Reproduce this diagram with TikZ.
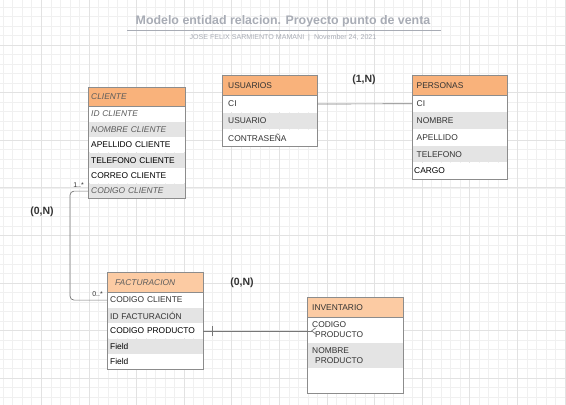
\documentclass[tikz,border=0pt]{standalone}
\usepackage{fontspec}
\setmainfont{Liberation Sans}
\usetikzlibrary{positioning,arrows.meta}
\definecolor{cO}{HTML}{F9B27B}
\definecolor{cO2}{HTML}{FCCBA3}
\definecolor{cGr}{HTML}{E4E4E4}
\definecolor{cLine}{HTML}{8C8C8C}
\definecolor{cTxt}{HTML}{333333}
\definecolor{cTitle}{HTML}{A8ACB5}
\definecolor{cGridA}{HTML}{F0F0F0}
\definecolor{cGridB}{HTML}{E2E2E2}
\newcommand{\rowfont}{\fontsize{8.4}{10}\selectfont}
\tikzset{myrow/.style={
  shape=rectangle,
  fill=white,
  minimum height=15pt,
  inner ysep=0pt,
  inner xsep=3pt,
  text width=91pt,
  align=left,
  font=\rowfont,
  text=cTxt,
  }
}
\tikzset{myrowG/.style={
  myrow,
  fill=cGr,
  }
}
\tikzset{myhead/.style={
  myrow,
  fill=cO,
  draw=cLine,
  minimum height=19pt,
  }
}
\tikzset{myital/.style={
  font=\rowfont\itshape,
  text=cTxt!80,
  }
}
\tikzset{usuW/.style={text width=83pt, inner xsep=6pt, minimum height=16.7pt}}
\tikzset{perW/.style={text width=86pt, inner xsep=4.5pt, minimum height=16.4pt}}
\tikzset{facW/.style={text width=90pt, inner xsep=3pt, minimum height=15pt}}
\tikzset{invW/.style={text width=86pt, inner xsep=5pt, minimum height=25pt}}
\tikzset{myframe/.style={draw=cLine, line width=0.9pt}}
\tikzset{mylink/.style={draw=cLine!85!black, line width=0.7pt}}
\tikzset{mycard/.style={font=\fontsize{7}{8}\selectfont, text=cTxt, inner sep=1pt}}
\tikzset{myrel/.style={font=\bfseries\fontsize{10.5}{12}\selectfont, text=cTxt}}

\begin{document}
\begin{tikzpicture}[x=1pt,y=-1pt]
  \useasboundingbox (0,0) rectangle (566,405);
  % grid
  \foreach \i in {-5,...,55} {
    \draw[cGridA, line width=0.6pt] ({41.3+9.52*\i},0) -- ({41.3+9.52*\i},405);
  }
  \foreach \j in {-5,...,38} {
    \draw[cGridA, line width=0.6pt] (0,{45+9.52*\j}) -- (566,{45+9.52*\j});
  }
  \foreach \i in {-1,...,11} {
    \draw[cGridB, line width=0.8pt] ({41.3+47.6*\i},0) -- ({41.3+47.6*\i},405);
  }
  \foreach \j in {-1,...,8} {
    \draw[cGridB, line width=0.8pt] (0,{45+47.6*\j}) -- (566,{45+47.6*\j});
  }

  \node[font=\bfseries\fontsize{12.4}{14}\selectfont, text=cTitle] (tt) at (283,21) {Modelo entidad relacion. Proyecto punto de venta};
  \draw[cTitle, line width=0.8pt] (127,30) -- (441,30);
  \node[font=\fontsize{7.1}{8}\selectfont, text=cTitle] (st) at (283,37.5) {JOSE FELIX SARMIENTO MAMANI \ | \ November 24, 2021};

  % CLIENTE
  \node[myhead, myital, anchor=north west] (cl0) at (88,87) {CLIENTE};
  \node[myrow, myital, below=0pt of cl0] (cl1) {ID CLIENTE};
  \node[myrowG, myital, below=0pt of cl1] (cl2) {NOMBRE CLIENTE};
  \node[myrow, text=black, below=0pt of cl2] (cl3) {APELLIDO CLIENTE};
  \node[myrowG, text=black, below=0pt of cl3] (cl4) {TELEFONO CLIENTE};
  \node[myrow, text=black, below=0pt of cl4] (cl5) {CORREO CLIENTE};
  \node[myrowG, myital, below=0pt of cl5] (cl6) {CODIGO CLIENTE};
  \draw[myframe] (cl0.north west) rectangle (cl6.south east);

  % USUARIOS
  \node[myhead, usuW, minimum height=20pt, anchor=north west] (u0) at (222,75) {USUARIOS};
  \node[myrow, usuW, below=0pt of u0] (u1) {CI};
  \node[myrowG, usuW, below=0pt of u1] (u2) {USUARIO};
  \node[myrow, usuW, below=0pt of u2] (u3) {CONTRASEÑA};
  \draw[myframe] (u0.north west) rectangle (u3.south east);

  % PERSONAS
  \node[myhead, perW, minimum height=20pt, anchor=north west] (p0) at (412,75) {PERSONAS};
  \node[myrow, perW, below=0pt of p0] (p1) {CI};
  \node[myrowG, perW, below=0pt of p1] (p2) {NOMBRE};
  \node[myrow, perW, below=0pt of p2] (p3) {APELLIDO};
  \node[myrowG, perW, below=0pt of p3] (p4) {TELEFONO};
  \node[myrow, perW, text=black, below=0pt of p4] (p5) {\hspace*{-2.5pt}CARGO};
  \draw[myframe] (p0.north west) rectangle (p5.south east);

  % FACTURACION
  \node[myhead, myital, facW, fill=cO2, text width=80pt, inner xsep=8pt, minimum height=20pt, anchor=north west] (f0) at (107,272) {FACTURACION};
  \node[myrow, facW, below=0pt of f0] (f1) {CODIGO CLIENTE};
  \node[myrowG, facW, below=0pt of f1] (f2) {ID FACTURACIÓN};
  \node[myrow, facW, text=black, below=0pt of f2] (f3) {CODIGO PRODUCTO};
  \node[myrowG, facW, text=black, below=0pt of f3] (f4) {Field};
  \node[myrow, facW, text=black, below=0pt of f4] (f5) {Field};
  \draw[myframe] (f0.north west) rectangle (f5.south east);

  % INVENTARIO
  \node[myhead, invW, fill=cO2, minimum height=20pt, anchor=north west] (i0) at (307,297) {INVENTARIO};
  \node[myrow, invW, below=0pt of i0] (i1) {CODIGO\\\hspace*{3pt}PRODUCTO};
  \node[myrowG, invW, below=0pt of i1] (i2) {NOMBRE\\\hspace*{3pt}PRODUCTO};
  \node[myrow, invW, below=0pt of i2] (i3) {};
  \draw[myframe] (i0.north west) rectangle (i3.south east);

  % relations
  \draw[mylink] (u1.east) -- (p1.west);
  \draw[mylink, rounded corners=4pt] (cl6.west) -- ++(-18,0) |- (f1.west);
  \node[mycard, anchor=south east] (k1) at ([xshift=-3pt,yshift=2pt]cl6.west) {1..*};
  \node[mycard, anchor=south east] (k2) at ([xshift=-3pt,yshift=2pt]f1.west) {0..*};

  \coordinate (iend) at ([xshift=9pt]i1.west);
  \coordinate (ftick) at ([xshift=9pt]f3.east);
  \draw[mylink, -{Straight Barb[reversed,length=4pt,width=6pt]}] (f3.east) -- (iend |- f3.east);
  \draw[mylink] ([yshift=-5pt]ftick) -- ([yshift=5pt]ftick);

  \node[myrel] (r1) at (364,80) {(1,N)};
  \node[myrel] (r2) at (42,212) {(0,N)};
  \node[myrel] (r3) at (242,283) {(0,N)};
\end{tikzpicture}
\end{document}
